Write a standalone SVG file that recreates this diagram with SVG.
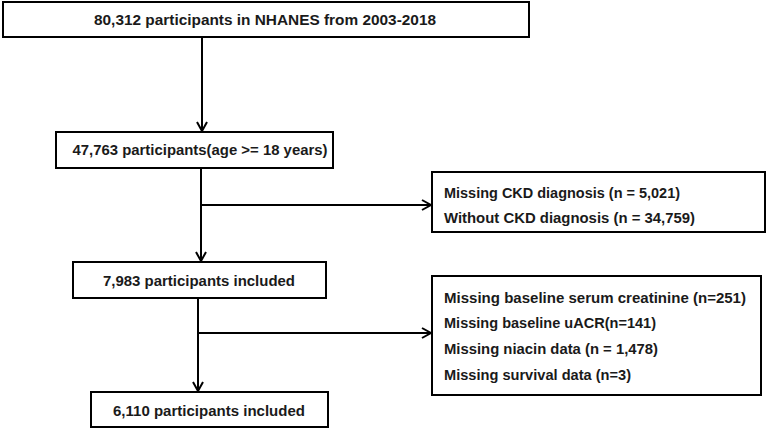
<svg xmlns="http://www.w3.org/2000/svg" width="767" height="430" viewBox="0 0 767 430">
<style>
rect{fill:#fff;stroke:#000;stroke-width:2}
text{font-family:"Liberation Sans",Arial,sans-serif;font-weight:bold;font-size:15px;fill:#1a1a1a}
.c{text-anchor:middle}
line{stroke:#000;stroke-width:2}
</style>
<defs><marker id="a" markerWidth="12" markerHeight="12" refX="10" refY="6" orient="auto" markerUnits="userSpaceOnUse"><path d="M1,1 L10,6 L1,11" fill="none" stroke="#000" stroke-width="2"/></marker></defs>
<rect width="767" height="430" style="stroke:none"/>
<g id="connectors">
<line x1="202" y1="37" x2="202" y2="131" marker-end="url(#a)"/>
<line x1="201" y1="168" x2="201" y2="261" marker-end="url(#a)"/>
<line x1="201" y1="205" x2="431" y2="205" marker-end="url(#a)"/>
<line x1="198" y1="298" x2="198" y2="391" marker-end="url(#a)"/>
<line x1="198" y1="333" x2="431" y2="333" marker-end="url(#a)"/>
</g>
<g id="n1"><rect x="3" y="2" width="526" height="35"/><text class="c" x="265" y="25" textLength="342" lengthAdjust="spacingAndGlyphs">80,312 participants in NHANES from 2003-2018</text></g>
<g id="n2"><rect x="56" y="132" width="277" height="36"/><text class="c" x="200" y="155" textLength="255" lengthAdjust="spacingAndGlyphs">47,763 participants(age &gt;= 18 years)</text></g>
<g id="n3"><rect x="432" y="172" width="333" height="60"/><text x="444" y="198" textLength="236" lengthAdjust="spacingAndGlyphs">Missing CKD diagnosis (n = 5,021)</text><text x="444" y="223" textLength="251" lengthAdjust="spacingAndGlyphs">Without CKD diagnosis (n = 34,759)</text></g>
<g id="n4"><rect x="73" y="262" width="253" height="36"/><text class="c" x="199" y="286" textLength="192" lengthAdjust="spacingAndGlyphs">7,983 participants included</text></g>
<g id="n5"><rect x="432" y="276" width="329" height="119"/><text x="444" y="303" textLength="302" lengthAdjust="spacingAndGlyphs">Missing baseline serum creatinine (n=251)</text><text x="444" y="328" textLength="212" lengthAdjust="spacingAndGlyphs">Missing baseline uACR(n=141)</text><text x="444" y="354" textLength="214" lengthAdjust="spacingAndGlyphs">Missing niacin data (n = 1,478)</text><text x="444" y="380" textLength="187" lengthAdjust="spacingAndGlyphs">Missing survival data (n=3)</text></g>
<g id="n6"><rect x="91" y="392" width="237" height="35"/><text class="c" x="209" y="416" textLength="192" lengthAdjust="spacingAndGlyphs">6,110 participants included</text></g>
</svg>
